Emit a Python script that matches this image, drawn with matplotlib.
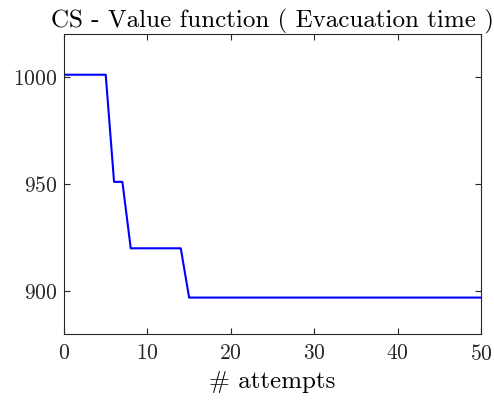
import matplotlib
matplotlib.use("Agg")
import matplotlib.pyplot as plt
import numpy as np

# Best value found so far after each attempt
attempts = np.arange(0, 51)
value = np.array([1001] * 6 + [951] * 2 + [920] * 7 + [897] * 36)

plt.rcParams["font.family"] = "serif"
plt.rcParams["font.serif"] = ["cmr10"]
plt.rcParams["mathtext.fontset"] = "cm"
plt.rcParams["axes.formatter.use_mathtext"] = True

fig = plt.figure(figsize=(4.94, 4.03), dpi=100)
ax = fig.add_axes([0.1296, 0.1712, 0.8441, 0.7444])

ax.plot(attempts, value, color="#0000ff", linewidth=1.5)

ax.set_xlim(0, 50)
ax.set_ylim(880, 1020)
ax.set_xticks([0, 10, 20, 30, 40, 50])
ax.set_yticks([900, 950, 1000])

ax.set_title("CS - Value function ( Evacuation time )", fontsize=18, color="#000000", pad=5)
ax.set_xlabel("# attempts", fontsize=18, labelpad=5)

ax.tick_params(direction="in", top=True, right=True, length=4, width=0.8,
               labelsize=15.5, colors="#262626", labelcolor="#262626", pad=5)
ax.tick_params(axis="x", pad=7)
for spine in ax.spines.values():
    spine.set_color("#262626")
    spine.set_linewidth(0.8)

fig.savefig("out.png", dpi=100)
